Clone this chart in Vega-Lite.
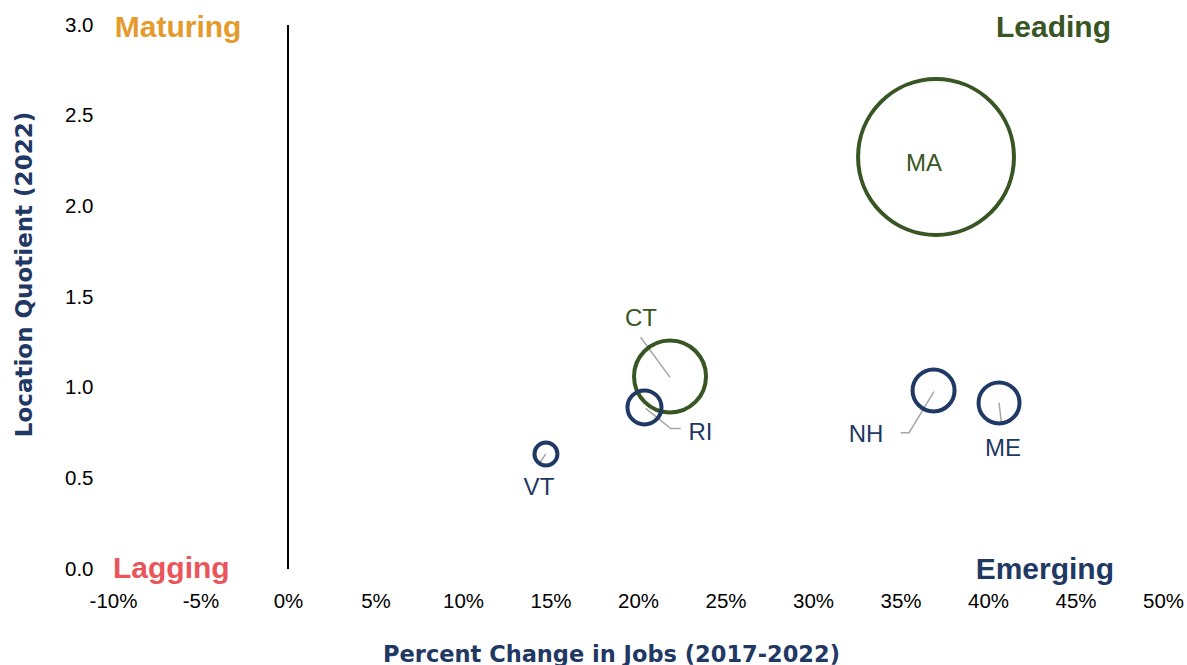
{
  "$schema": "https://vega.github.io/schema/vega-lite/v6.json",
  "autosize": {"type": "none"},
  "padding": {"left": 113, "top": 25, "right": 24, "bottom": 96},
  "width": 1050,
  "height": 544,
  "background": "white",
  "config": {
    "view": {"stroke": null},
    "font": "Liberation Sans"
  },
  "datasets": {
    "states": [
      {"state": "MA", "growth": 0.3703, "lq": 2.272, "jobs": 95000, "quadrant": "Leading", "label_x": 0.3634, "label_y": 2.235},
      {"state": "CT", "growth": 0.2183, "lq": 1.062, "jobs": 20250, "quadrant": "Leading", "label_x": 0.2017, "label_y": 1.379},
      {"state": "RI", "growth": 0.2037, "lq": 0.891, "jobs": 4520, "quadrant": "Emerging", "label_x": 0.2357, "label_y": 0.752},
      {"state": "NH", "growth": 0.3689, "lq": 0.985, "jobs": 6890, "quadrant": "Emerging", "label_x": 0.3303, "label_y": 0.738},
      {"state": "ME", "growth": 0.4063, "lq": 0.916, "jobs": 6570, "quadrant": "Emerging", "label_x": 0.4086, "label_y": 0.663},
      {"state": "VT", "growth": 0.1474, "lq": 0.634, "jobs": 2065, "quadrant": "Emerging", "label_x": 0.1434, "label_y": 0.447}
    ],
    "leaders": [
      {"state": "CT", "seq": 1, "x": 0.2015, "y": 1.278},
      {"state": "CT", "seq": 2, "x": 0.2183, "y": 1.057},
      {"state": "RI", "seq": 1, "x": 0.2244, "y": 0.775},
      {"state": "RI", "seq": 2, "x": 0.2187, "y": 0.775},
      {"state": "RI", "seq": 3, "x": 0.2044, "y": 0.886},
      {"state": "NH", "seq": 1, "x": 0.3501, "y": 0.752},
      {"state": "NH", "seq": 2, "x": 0.3549, "y": 0.752},
      {"state": "NH", "seq": 3, "x": 0.3691, "y": 0.978},
      {"state": "ME", "seq": 1, "x": 0.4078, "y": 0.794},
      {"state": "ME", "seq": 2, "x": 0.4063, "y": 0.917},
      {"state": "VT", "seq": 1, "x": 0.1430, "y": 0.574},
      {"state": "VT", "seq": 2, "x": 0.1473, "y": 0.634}
    ],
    "quadrants": [
      {"name": "Maturing", "x": -0.099, "y": 2.986, "side": "left"},
      {"name": "Leading", "x": 0.4703, "y": 2.984, "side": "right"},
      {"name": "Lagging", "x": -0.1, "y": 0.0, "side": "left"},
      {"name": "Emerging", "x": 0.472, "y": -0.004, "side": "right"}
    ]
  },
  "encoding": {
    "x": {"type": "quantitative"},
    "y": {"type": "quantitative"}
  },
  "layer": [
    {
      "data": {"name": "states"},
      "mark": {"type": "rule", "color": "#000000", "strokeWidth": 2},
      "encoding": {
        "x": {"datum": 0, "type": "quantitative",
          "scale": {"domain": [-0.1, 0.5], "nice": false, "zero": false},
          "axis": {
            "values": [-0.1, -0.05, 0, 0.05, 0.1, 0.15, 0.2, 0.25, 0.3, 0.35, 0.4, 0.45, 0.5],
            "labelExpr": "replace(format(datum.value, '.0%'), '\u2212', '-')",
            "grid": false, "domain": false, "ticks": false,
            "labelFont": "Liberation Sans", "labelFontSize": 20.5, "labelColor": "#000000",
            "labelPadding": 22, "labelFlush": false, "labelOverlap": false,
            "title": "Percent Change in Jobs (2017-2022)",
            "titleFont": "DejaVu Sans", "titleFontWeight": "bold", "titleFontSize": 22.5,
            "titleColor": "#1F3864", "titleX": 498, "titleY": 85, "titleBaseline": "middle", "titleAlign": "center"
          }},
        "y": {"datum": 0, "type": "quantitative",
          "scale": {"domain": [0, 3], "nice": false},
          "axis": {
            "values": [0, 0.5, 1, 1.5, 2, 2.5, 3],
            "format": ".1f", "grid": false, "domain": false, "ticks": false,
            "labelFont": "Liberation Sans", "labelFontSize": 20.5, "labelColor": "#000000",
            "labelPadding": 20, "labelFlush": false, "labelOverlap": false,
            "title": "Location Quotient (2022)",
            "titleFont": "DejaVu Sans", "titleFontWeight": "bold", "titleFontSize": 23,
            "titleColor": "#1F3864", "titleX": -89, "titleY": 249, "titleBaseline": "middle", "titleAlign": "center", "titleAngle": -90
          }},
        "y2": {"datum": 3}
      }
    },
    {
      "data": {"name": "leaders"},
      "mark": {"type": "line", "color": "#A6A6A6", "strokeWidth": 1.5},
      "encoding": {
        "x": {"field": "x", "type": "quantitative"},
        "y": {"field": "y", "type": "quantitative"},
        "detail": {"field": "state"},
        "order": {"field": "seq"}
      }
    },
    {
      "data": {"name": "states"},
      "mark": {"type": "point", "shape": "circle", "filled": false, "strokeWidth": 4, "opacity": 1},
      "encoding": {
        "x": {"field": "growth", "type": "quantitative"},
        "y": {"field": "lq", "type": "quantitative"},
        "size": {"field": "jobs", "type": "quantitative", "scale": {"type": "linear", "domain": [0, 95000], "range": [0, 24300]}, "legend": null},
        "color": {"field": "quadrant", "type": "nominal",
          "scale": {"domain": ["Maturing", "Leading", "Lagging", "Emerging"], "range": ["#E49B2C", "#375623", "#EA555B", "#1F3864"]},
          "legend": null}
      }
    },
    {
      "data": {"name": "states"},
      "mark": {"type": "text", "font": "Liberation Sans", "fontSize": 24, "align": "center", "baseline": "middle"},
      "encoding": {
        "x": {"field": "label_x", "type": "quantitative"},
        "y": {"field": "label_y", "type": "quantitative"},
        "text": {"field": "state"},
        "color": {"field": "quadrant", "type": "nominal", "legend": null}
      }
    },
    {
      "data": {"name": "quadrants"},
      "transform": [{"filter": "datum.side === 'left'"}],
      "mark": {"type": "text", "font": "Liberation Sans", "fontWeight": "bold", "fontSize": 30, "align": "left", "baseline": "middle"},
      "encoding": {
        "x": {"field": "x", "type": "quantitative"},
        "y": {"field": "y", "type": "quantitative"},
        "text": {"field": "name"},
        "color": {"field": "name", "type": "nominal", "legend": null}
      }
    },
    {
      "data": {"name": "quadrants"},
      "transform": [{"filter": "datum.side === 'right'"}],
      "mark": {"type": "text", "font": "Liberation Sans", "fontWeight": "bold", "fontSize": 30, "align": "right", "baseline": "middle"},
      "encoding": {
        "x": {"field": "x", "type": "quantitative"},
        "y": {"field": "y", "type": "quantitative"},
        "text": {"field": "name"},
        "color": {"field": "name", "type": "nominal", "legend": null}
      }
    }
  ]
}
